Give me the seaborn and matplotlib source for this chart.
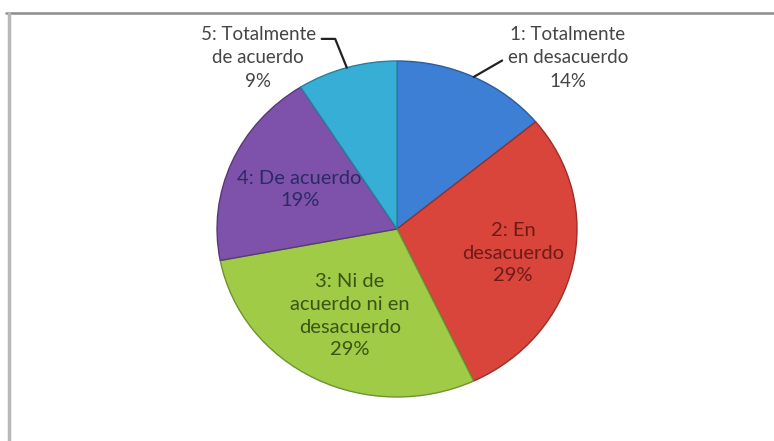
import matplotlib
matplotlib.use("Agg")
import matplotlib.pyplot as plt
import seaborn as sns
import numpy as np
from matplotlib.lines import Line2D

# data
categories = ["1: Totalmente\nen desacuerdo", "2: En\ndesacuerdo",
              "3: Ni de\nacuerdo ni en\ndesacuerdo", "4: De acuerdo",
              "5: Totalmente\nde acuerdo"]
percentages = [14, 29, 29, 19, 9]

slice_colors = ["#3c7fd4", "#d9443b", "#9fcb47", "#7e52aa", "#37aed6"]
edge_colors = ["#2a5d9c", "#9c2e28", "#6f9232", "#573a78", "#27809d"]
text_colors = ["#454545", "#6e1b17", "#3b5414", "#2c2a66", "#454545"]

sns.set_theme(style="white")
plt.rcParams["font.family"] = ["Lato", "DejaVu Sans"]

fig = plt.figure(figsize=(7.74, 4.41), dpi=100)
fig.patch.set_facecolor("white")

# chart border (top and left edges visible)
fig.add_artist(Line2D([0.008, 1.0], [0.971, 0.971], transform=fig.transFigure,
                      color="#8c8c8c", lw=1.8))
fig.add_artist(Line2D([0.011, 0.011], [0.0, 0.971], transform=fig.transFigure,
                      color="#b8b8b8", lw=2.5))

ax = fig.add_axes([0.2804, 0.0998, 0.4651, 0.7619])
wedges, _ = ax.pie(percentages, colors=slice_colors, startangle=90,
                   counterclock=False,
                   wedgeprops=dict(linewidth=1.0))
for w, ec in zip(wedges, edge_colors):
    w.set_edgecolor(ec)
ax.set_aspect("auto")
ax.set_xlim(-1, 1)
ax.set_ylim(-1, 1)
ax.axis("off")

# inside labels
inside = {1: 0.66, 2: 0.58, 3: 0.59}
for i, r in inside.items():
    w = wedges[i]
    mid = np.deg2rad((w.theta1 + w.theta2) / 2)
    ax.text(r * np.cos(mid), r * np.sin(mid), f"{categories[i]}\n{percentages[i]}%",
            ha="center", va="center", fontsize=14.5, color=text_colors[i],
            linespacing=1.4)

# outside labels with leader lines
outside = {0: ((0.95, 1.018), (0.0, 0.5), 30),
           4: ((-0.772, 1.018), (1.0, 0.8), -68)}
for i, (pos, rel, angB) in outside.items():
    w = wedges[i]
    mid = np.deg2rad((w.theta1 + w.theta2) / 2)
    ax.annotate(f"{categories[i]}\n{percentages[i]}%",
                xy=(np.cos(mid), np.sin(mid)), xytext=pos,
                ha="center", va="center", fontsize=13.5, color=text_colors[i],
                linespacing=1.45,
                arrowprops=dict(arrowstyle="-", color="#222222", lw=1.6,
                                relpos=rel, shrinkA=2, shrinkB=0,
                                connectionstyle=f"angle,angleA=0,angleB={angB},rad=0"))

fig.savefig("out.png", dpi=100, facecolor="white")
